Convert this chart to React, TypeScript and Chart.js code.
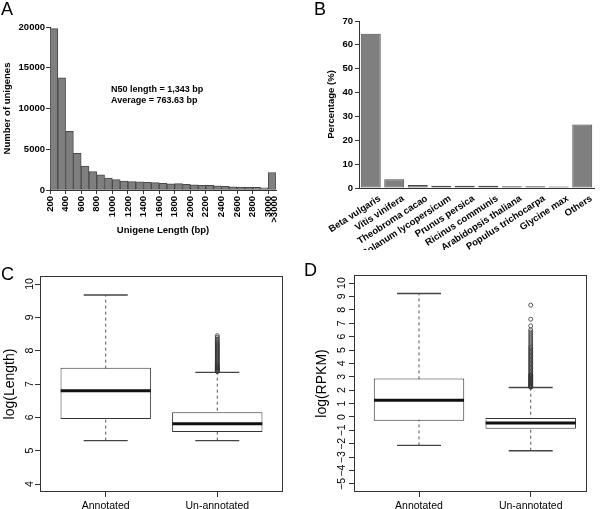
import React, { useEffect, useRef } from "react";
import { Chart, registerables } from "chart.js";

Chart.register(...registerables);
Chart.defaults.font.family = "'Liberation Sans', Arial, Helvetica, sans-serif";

// ---------- Panel A: unigene length distribution ----------
const binStartsA = [200, 300, 400, 500, 600, 700, 800, 900, 1000, 1100, 1200, 1300, 1400, 1500, 1600, 1700, 1800, 1900, 2000, 2100, 2200, 2300, 2400, 2500, 2600, 2700, 2800, 2900, 3000];
const binWidthA = 100;
const countsA = [19800, 13750, 7200, 4500, 2950, 2250, 1850, 1450, 1270, 1100, 1020, 1000, 950, 900, 820, 760, 780, 700, 640, 580, 560, 520, 460, 400, 360, 340, 320, 260, 2150];
const xTickValuesA = [200, 400, 600, 800, 1000, 1200, 1400, 1600, 1800, 2000, 2200, 2400, 2600, 2800, 3000];
const xTickLabelsA = ["200", "400", "600", "800", "1000", "1200", "1400", "1600", "1800", "2000", "2200", "2400", "2600", "2800", "3000"];
const lastBinLabelA = ">3000";
const yTickValuesA = [0, 5000, 10000, 15000, 20000];
const annotationA = ["N50 length = 1,343 bp", "Average = 763.63 bp"];

// ---------- Panel B: species distribution ----------
const speciesB = ["Beta vulgaris", "Vitis vinifera", "Theobroma cacao", "Solanum lycopersicum", "Prunus persica", "Ricinus communis", "Arabidopsis thaliana", "Populus trichocarpa", "Glycine max", "Others"];
const percentB = [64.7, 3.7, 1.3, 0.9, 0.9, 0.9, 0.7, 0.7, 0.6, 26.6];
const yTickValuesB = [0, 10, 20, 30, 40, 50, 60, 70];

// ---------- Box plots C & D ----------
const groupsBox = ["Annotated", "Un-annotated"];

const lowC = [5.3, 5.3];
const q1C = [5.95, 5.56];
const medC = [6.8, 5.81];
const q3C = [7.49, 6.15];
const highC = [9.67, 7.35];
const outliersC = [7.37, 7.39, 7.41, 7.43, 7.45, 7.47, 7.49, 7.51, 7.53, 7.55, 7.58, 7.6, 7.63, 7.66, 7.69, 7.72, 7.75, 7.78, 7.81, 7.84, 7.87, 7.9, 7.93, 7.96, 7.99, 8.02, 8.05, 8.08, 8.11, 8.14, 8.17, 8.2, 8.23, 8.27, 8.31, 8.35, 8.4, 8.45];
const yTickValuesC = [4, 5, 6, 7, 8, 9, 10];

const lowD = [-2.12, -2.52];
const q1D = [-0.28, -0.87];
const medD = [1.25, -0.45];
const q3D = [2.87, -0.08];
const highD = [9.22, 2.2];
const outliersD = [2.22, 2.26, 2.3, 2.35, 2.4, 2.45, 2.5, 2.55, 2.6, 2.65, 2.7, 2.75, 2.8, 2.85, 2.9, 2.95, 3.0, 3.05, 3.1, 3.15, 3.2, 3.3, 3.4, 3.5, 3.6, 3.7, 3.8, 3.9, 4.0, 4.1, 4.2, 4.3, 4.4, 4.5, 4.6, 4.7, 4.8, 4.9, 5.0, 5.1, 5.2, 5.3, 5.45, 5.6, 5.75, 5.9, 6.05, 6.2, 6.35, 6.5, 6.8, 7.3, 8.35];
const yTickValuesD = [-5, -4, -3, -2, -1, 0, 1, 2, 3, 4, 5, 6, 7, 8, 9, 10];

const BOLD = (size: number) => ({ size, weight: "bold" as const });

const framePlugin = {
  id: "frame",
  afterDraw(chart: any) {
    const { ctx, chartArea: a } = chart;
    ctx.save();
    ctx.strokeStyle = "#333";
    ctx.lineWidth = 1;
    ctx.strokeRect(Math.round(a.left) + 0.5, Math.round(a.top) + 0.5, Math.round(a.right - a.left) - 1, Math.round(a.bottom - a.top) - 1);
    ctx.restore();
  },
};

function rotatedYTicks(labels: string[], gap: number) {
  return {
    id: "rotYTicks",
    afterDraw(chart: any) {
      const { ctx, chartArea } = chart;
      const y = chart.scales.y;
      ctx.save();
      ctx.font = "10.5px 'Liberation Sans', Arial, sans-serif";
      ctx.fillStyle = "#000";
      ctx.textAlign = "center";
      ctx.textBaseline = "alphabetic";
      y.ticks.forEach((t: any, i: number) => {
        const py = y.getPixelForValue(t.value);
        ctx.save();
        ctx.translate(chartArea.left - gap, py);
        ctx.rotate(-Math.PI / 2);
        ctx.fillText(labels[i], 0, 0);
        ctx.restore();
      });
      ctx.restore();
    },
  };
}

const fmtTick = (v: number) => (v < 0 ? "\u2212" + Math.abs(v) : String(v));

function boxConfig(p: {
  low: number[]; q1: number[]; med: number[]; q3: number[]; high: number[]; outliers: number[];
  yTicks: number[]; yMin: number; yMax: number; xMin: number; xMax: number;
  title: string; titlePad: number; axisWidth: number; padTop: number; padRight: number; gap: number;
}) {
  const pos = groupsBox.map((_, i) => i + 1);
  const whiskers: any[] = [];
  pos.forEach((x, i) => {
    whiskers.push({ x, y: p.low[i] }, { x, y: p.high[i] }, { x, y: null });
  });
  const caps: any[] = [];
  pos.forEach((x, i) => caps.push({ x, y: p.low[i] }, { x, y: p.high[i] }));
  const lastIdx = groupsBox.length;
  return {
    type: "bar",
    data: {
      datasets: [
        { type: "line", data: whiskers, borderColor: "#555", borderWidth: 1, borderDash: [3, 3], pointRadius: 0, spanGaps: false, tension: 0, order: 5 },
        { type: "bar", data: pos.map((x, i) => ({ x, y: [p.q1[i], p.q3[i]] })), backgroundColor: "#ffffff", borderColor: "#333", borderWidth: 1, borderSkipped: false, barPercentage: 0.81, categoryPercentage: 1, order: 4 },
        { type: "line", data: caps, showLine: false, pointStyle: "line", pointRadius: 22, pointBorderWidth: 1.3, pointBorderColor: "#444", order: 3 },
        { type: "line", data: pos.map((x, i) => ({ x, y: p.med[i] })), showLine: false, pointStyle: "line", pointRadius: 45, pointBorderWidth: 3, pointBorderColor: "#111", order: 2 },
        { type: "line", data: p.outliers.map((v) => ({ x: lastIdx, y: v })), showLine: false, pointStyle: "circle", pointRadius: 2, pointBorderWidth: 0.8, pointBorderColor: "#333", pointBackgroundColor: "rgba(0,0,0,0)", order: 1 },
      ],
    },
    options: {
      animation: false,
      responsive: false,
      devicePixelRatio: 1,
      layout: { autoPadding: false, padding: { left: 0, top: p.padTop, right: p.padRight, bottom: 0 } },
      plugins: { legend: { display: false }, tooltip: { enabled: false } },
      scales: {
        x: {
          type: "linear",
          offset: false,
          min: p.xMin,
          max: p.xMax,
          afterBuildTicks: (s: any) => { s.ticks = pos.map((v) => ({ value: v })); },
          afterFit: (s: any) => { s.height = 17; },
          ticks: { color: "#000", padding: 3, font: { size: 10.5 }, callback: (_v: any, i: number) => groupsBox[i] },
          grid: { offset: false, drawOnChartArea: false, drawTicks: true, tickLength: 5, color: "#333" },
          border: { display: false },
        },
        y: {
          min: p.yMin,
          max: p.yMax,
          afterBuildTicks: (s: any) => { s.ticks = p.yTicks.map((v) => ({ value: v })); },
          afterFit: (s: any) => { s.width = p.axisWidth; },
          ticks: { display: false },
          grid: { drawOnChartArea: false, drawTicks: true, tickLength: 5, color: "#333" },
          border: { display: false },
          title: { display: true, text: p.title, color: "#000", font: { size: 14 }, padding: { top: p.titlePad, bottom: 0 } },
        },
      },
    },
    plugins: [framePlugin, rotatedYTicks(p.yTicks.map(fmtTick), p.gap)],
  };
}

export default function App() {
  const refA = useRef<HTMLCanvasElement>(null);
  const refB = useRef<HTMLCanvasElement>(null);
  const refC = useRef<HTMLCanvasElement>(null);
  const refD = useRef<HTMLCanvasElement>(null);

  useEffect(() => {
    const charts: Chart[] = [];

    const lastTick = xTickValuesA.length - 1;
    charts.push(
      new Chart(refA.current as HTMLCanvasElement, {
        type: "bar",
        data: {
          datasets: [
            {
              data: binStartsA.map((s, i) => ({ x: s + binWidthA / 2, y: countsA[i] })),
              backgroundColor: "#7f7f7f",
              borderColor: "#4a4a4a",
              borderWidth: 1,
              borderSkipped: false,
              barPercentage: 1,
              categoryPercentage: 1,
            } as any,
          ],
        },
        options: {
          animation: false,
          responsive: false,
          devicePixelRatio: 1,
          layout: { autoPadding: false, padding: { left: 0, top: 27, right: 24, bottom: 0 } },
          plugins: { legend: { display: false }, tooltip: { enabled: false } },
          scales: {
            x: {
              type: "linear",
              offset: false,
              min: binStartsA[0],
              max: binStartsA[binStartsA.length - 1] + binWidthA,
              afterBuildTicks: (s: any) => { s.ticks = xTickValuesA.map((v) => ({ value: v })); },
              afterFit: (s: any) => { s.height = 60; },
              ticks: {
                autoSkip: false,
                minRotation: 90,
                maxRotation: 90,
                padding: 2,
                color: "#000",
                font: { size: 9.5, weight: "bold", lineHeight: 0.65 },
                callback: (_v: any, i: number) => (i === lastTick ? [xTickLabelsA[i], lastBinLabelA] : xTickLabelsA[i]),
              },
              grid: { offset: false, drawOnChartArea: false, drawTicks: true, tickLength: 4, color: "#333" },
              border: { display: true, color: "#333" },
              title: { display: true, text: "Unigene Length (bp)", color: "#000", font: BOLD(9.5), padding: { top: 0, bottom: 14 } },
            },
            y: {
              min: 0,
              max: 20000,
              afterBuildTicks: (s: any) => { s.ticks = yTickValuesA.map((v) => ({ value: v })); },
              afterFit: (s: any) => { s.width = 50; },
              ticks: { padding: 1, color: "#000", font: BOLD(9.5), callback: (v: any) => String(v) },
              grid: { drawOnChartArea: false, drawTicks: true, tickLength: 4, color: "#333" },
              border: { display: true, color: "#333" },
              title: { display: true, text: "Number of unigenes", color: "#000", font: BOLD(9.5), padding: { top: 2, bottom: 0 } },
            },
          },
        } as any,
      })
    );

    charts.push(
      new Chart(refB.current as HTMLCanvasElement, {
        type: "bar",
        data: {
          labels: speciesB,
          datasets: [
            {
              data: percentB,
              backgroundColor: "#7f7f7f",
              borderColor: "#4a4a4a",
              borderWidth: 1,
              borderSkipped: false,
              barPercentage: 0.85,
              categoryPercentage: 1,
            } as any,
          ],
        },
        options: {
          animation: false,
          responsive: false,
          devicePixelRatio: 1,
          layout: { autoPadding: false, padding: { left: 0, top: 21, right: 6, bottom: 0 } },
          plugins: { legend: { display: false }, tooltip: { enabled: false } },
          scales: {
            x: {
              afterFit: (s: any) => { s.height = 62; },
              grid: { display: false },
              border: { display: true, color: "#333" },
              ticks: { autoSkip: false, minRotation: 33, maxRotation: 33, padding: -3, labelOffset: 9, color: "#000", font: BOLD(9.5) },
            },
            y: {
              min: 0,
              max: 70,
              afterBuildTicks: (s: any) => { s.ticks = yTickValuesB.map((v) => ({ value: v })); },
              afterFit: (s: any) => { s.width = 59; },
              ticks: { padding: 2, color: "#000", font: BOLD(9.5), callback: (v: any) => String(v) },
              grid: { drawOnChartArea: false, drawTicks: true, tickLength: 4, color: "#333" },
              border: { display: true, color: "#333" },
              title: { display: true, text: "Percentage (%)", color: "#000", font: BOLD(9.5), padding: { top: 26, bottom: 0 } },
            },
          },
        } as any,
      })
    );

    charts.push(
      new Chart(refC.current as HTMLCanvasElement, boxConfig({
        low: lowC, q1: q1C, med: medC, q3: q3C, high: highC, outliers: outliersC,
        yTicks: yTickValuesC, yMin: 3.76, yMax: 10.24, xMin: 0.411, xMax: 2.589,
        title: "log(Length)", titlePad: 1.6, axisWidth: 40, padTop: 26, padRight: 17, gap: 7.5,
      }) as any)
    );

    charts.push(
      new Chart(refD.current as HTMLCanvasElement, boxConfig({
        low: lowD, q1: q1D, med: medD, q3: q3D, high: highD, outliers: outliersD,
        yTicks: yTickValuesD, yMin: -5.6, yMax: 10.6, xMin: 0.418, xMax: 2.504,
        title: "log(RPKM)", titlePad: 13.6, axisWidth: 54, padTop: 25, padRight: 13, gap: 9,
      }) as any)
    );

    return () => charts.forEach((c) => c.destroy());
  }, []);

  const panel = (left: number, top: number, w: number, h: number, ref: any) => (
    <div style={{ position: "absolute", left, top, width: w, height: h, overflow: "hidden" }}>
      <canvas ref={ref} width={w} height={h} style={{ width: w, height: h, display: "block" }} />
    </div>
  );

  const letter = (t: string, left: number, top: number) => (
    <div style={{ position: "absolute", left, top, fontFamily: "'Liberation Sans', Arial, sans-serif", fontSize: 18, lineHeight: "18px", color: "#000" }}>{t}</div>
  );

  return (
    <div style={{ position: "absolute", left: 0, top: 0, width: 600, height: 509, overflow: "hidden", background: "#fff" }}>
      {panel(0, 0, 300, 250, refA)}
      {panel(300, 0, 300, 250, refB)}
      {panel(0, 250, 300, 259, refC)}
      {panel(300, 250, 300, 259, refD)}
      <div style={{ position: "absolute", left: 111, top: 84, fontFamily: "'Liberation Sans', Arial, sans-serif", fontWeight: "bold", fontSize: 9, lineHeight: "11px", color: "#000", whiteSpace: "nowrap" }}>
        <div>{annotationA[0]}</div>
        <div>{annotationA[1]}</div>
      </div>
      {letter("A", 1, 0)}
      {letter("B", 314, 0)}
      {letter("C", 1, 265)}
      {letter("D", 304, 261)}
    </div>
  );
}
